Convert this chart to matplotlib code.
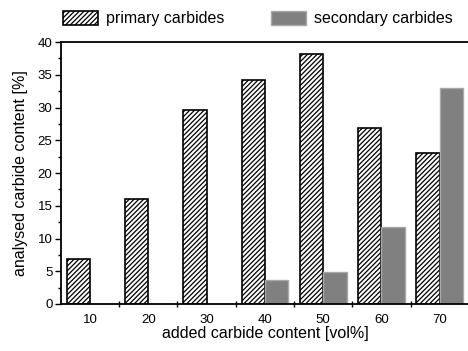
import matplotlib.pyplot as plt
import numpy as np
from matplotlib.ticker import MultipleLocator, FixedLocator

plt.rcParams['font.family'] = ['Liberation Sans', 'DejaVu Sans']
plt.rcParams['hatch.linewidth'] = 0.9

added = [10, 20, 30, 40, 50, 60, 70]
primary = [6.8, 16.0, 29.7, 34.2, 38.2, 26.9, 23.0]
secondary = [0, 0, 0, 3.7, 4.9, 11.8, 33.0]

fig = plt.figure(figsize=(4.68, 3.51), dpi=100)
ax = fig.add_axes([0.130, 0.134, 0.872, 0.746])

x = np.array(added, dtype=float)
w = 4.0
ax.bar(x - w / 2, primary, width=w, color='white', edgecolor='black',
       hatch='///////', linewidth=1.2, label='primary carbides')
ax.bar(x + w / 2, secondary, width=w, color='#808080', edgecolor='#a8a8a8',
       linewidth=1.0, label='secondary carbides')

ax.set_xlim(5, 75)
ax.set_ylim(0, 40)
ax.set_xticks(added)
ax.set_xticklabels([str(a) for a in added])
ax.xaxis.set_minor_locator(FixedLocator(np.arange(15, 75, 10)))
ax.tick_params(axis='x', which='major', length=0, labelsize=9.5, pad=7)
ax.tick_params(axis='x', which='minor', direction='inout', length=5, width=1)
ax.yaxis.set_major_locator(MultipleLocator(5))
ax.yaxis.set_minor_locator(MultipleLocator(2.5))
ax.tick_params(axis='y', which='major', direction='out', length=4, width=1, labelsize=9.5, pad=2)
ax.tick_params(axis='y', which='minor', direction='out', length=2.5, width=1)

for s in ax.spines.values():
    s.set_linewidth(1.3)
ax.spines['right'].set_visible(False)

ax.set_xlabel('added carbide content [vol%]', fontsize=11.5, labelpad=0)
ax.set_ylabel('analysed carbide content [%]', fontsize=11.5, labelpad=7)

ax.legend(loc='lower left', bbox_to_anchor=(-0.034, 1.0), ncol=2, frameon=False,
          fontsize=11.5, handlelength=2.2, handleheight=1.0, columnspacing=2.9,
          handletextpad=0.5, borderaxespad=0.6)

fig.savefig('out.png', dpi=100)
